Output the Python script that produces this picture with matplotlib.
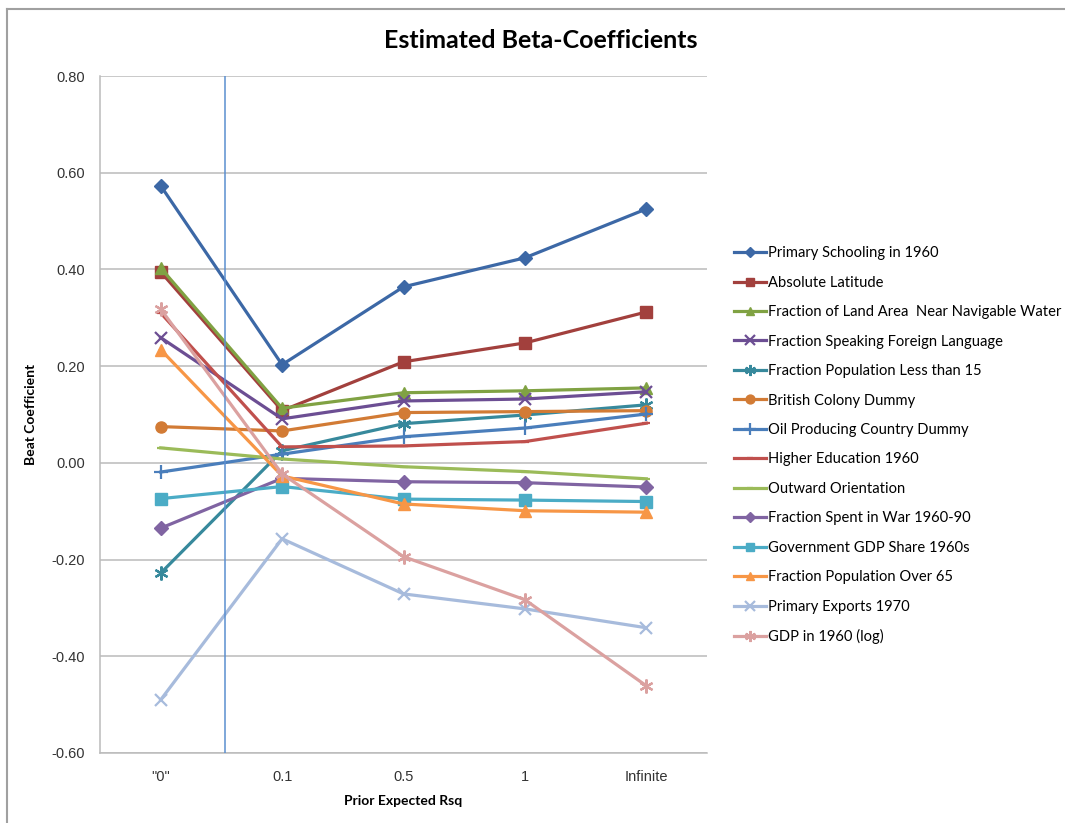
import matplotlib
matplotlib.use("Agg")
import matplotlib.pyplot as plt
from matplotlib.lines import Line2D

categories = ['"0"', "0.1", "0.5", "1", "Infinite"]

series_names = [
    "Primary Schooling in 1960",
    "Absolute Latitude",
    "Fraction of Land Area  Near Navigable Water",
    "Fraction Speaking Foreign Language",
    "Fraction Population Less than 15",
    "British Colony Dummy",
    "Oil Producing Country Dummy",
    "Higher Education 1960",
    "Outward Orientation",
    "Fraction Spent in War 1960-90",
    "Government GDP Share 1960s",
    "Fraction Population Over 65",
    "Primary Exports 1970",
    "GDP in 1960 (log)",
]

primary_schooling = [0.573, 0.203, 0.364, 0.424, 0.525]
abs_latitude = [0.395, 0.108, 0.209, 0.248, 0.312]
land_near_water = [0.403, 0.113, 0.145, 0.149, 0.155]
foreign_language = [0.259, 0.091, 0.128, 0.132, 0.147]
pop_under_15 = [-0.228, 0.025, 0.081, 0.099, 0.120]
british_colony = [0.075, 0.066, 0.104, 0.106, 0.108]
oil_producing = [-0.019, 0.018, 0.054, 0.072, 0.101]
higher_education = [0.310, 0.033, 0.035, 0.044, 0.082]
outward_orientation = [0.031, 0.008, -0.008, -0.018, -0.033]
spent_in_war = [-0.135, -0.032, -0.039, -0.041, -0.050]
govt_gdp_share = [-0.074, -0.049, -0.075, -0.077, -0.080]
pop_over_65 = [0.234, -0.027, -0.085, -0.099, -0.102]
primary_exports = [-0.490, -0.157, -0.271, -0.302, -0.341]
gdp_1960_log = [0.318, -0.023, -0.194, -0.283, -0.461]

values = [primary_schooling, abs_latitude, land_near_water, foreign_language,
          pop_under_15, british_colony, oil_producing, higher_education,
          outward_orientation, spent_in_war, govt_gdp_share, pop_over_65,
          primary_exports, gdp_1960_log]

colors = ["#3C68A6", "#A2403D", "#80A243", "#6C4E93", "#37899C", "#D27B35",
          "#4A7EBB", "#C0504D", "#9BBB59", "#8064A2", "#4BACC6", "#F79646",
          "#A7BBDC", "#DBA1A0"]
markers = ["D", "s", "^", "x", (6, 2, 0), "o", "+", "_", "_", "D", "s", "^", "x", (6, 2, 0)]
msizes = [7, 8, 8, 9, 10, 8, 10, 6, 6, 7, 8, 8, 9, 10]

# position of the vertical reference line, in category units
ref_line_x = 0.53

plt.rcParams["font.family"] = ["Lato", "DejaVu Sans"]

fig = plt.figure(figsize=(10.65, 8.23), dpi=100)
ax = fig.add_axes([100 / 1065, 1 - 753 / 823, 607 / 1065, 677 / 823])

x = list(range(len(categories)))
for name, vals, c, m, ms in zip(series_names, values, colors, markers, msizes):
    mew = 1.6 if m in ("x", "+", "_") or isinstance(m, tuple) else 1.0
    ax.plot(x, vals, color=c, lw=2.3, marker=m, ms=ms, mew=mew,
            mec=c, mfc=c, label=name, solid_joinstyle="round")

ax.axvline(ref_line_x, color="#5B8FD0", lw=1.1, zorder=5)

tick_font = {"family": "Liberation Sans", "size": 10.5, "color": "#333333"}
ax.set_xlim(-0.5, 4.5)
ax.set_ylim(-0.6, 0.8)
ax.set_yticks([-0.6, -0.4, -0.2, 0.0, 0.2, 0.4, 0.6, 0.8])
ax.set_yticklabels([f"{v:.2f}" for v in ax.get_yticks()], fontdict=tick_font)
ax.set_xticks(x)
ax.set_xticklabels(categories, fontdict=tick_font)
ax.tick_params(axis="y", length=0, pad=11)
ax.tick_params(axis="x", length=0, pad=12)
ax.yaxis.grid(True, color="#BBBBBB", lw=1.1)
ax.set_axisbelow(True)
for side in ("top", "right"):
    ax.spines[side].set_visible(False)
for side in ("left", "bottom"):
    ax.spines[side].set_color("#BBBBBB")
    ax.spines[side].set_linewidth(1.1)

ax.set_ylabel("Beat Coefficient", fontsize=10, fontweight="bold")
ax.yaxis.set_label_coords(-63 / 607, 0.5)
ax.set_xlabel("Prior Expected Rsq", fontsize=10, fontweight="bold", labelpad=8)
fig.text(541 / 1065, 1 - 40 / 823, "Estimated Beta-Coefficients",
         ha="center", va="center", fontsize=18, fontweight="bold")

handles, labels = ax.get_legend_handles_labels()
leg = fig.legend(handles, labels, loc="upper left", bbox_to_anchor=(721 / 1065, 1 - 233 / 823),
                 frameon=False, fontsize=10.6, handlelength=2.15, handletextpad=0.15,
                 labelspacing=1.05, markerscale=0.8)

# chart area border (top and left edges)
fig.add_artist(Line2D([7 / 1065, 1], [1 - 8.5 / 823, 1 - 8.5 / 823], color="#A0A0A0", lw=1.5))
fig.add_artist(Line2D([7 / 1065, 7 / 1065], [0, 1 - 8.5 / 823], color="#A0A0A0", lw=1.5))

fig.savefig("out.png", dpi=100)
